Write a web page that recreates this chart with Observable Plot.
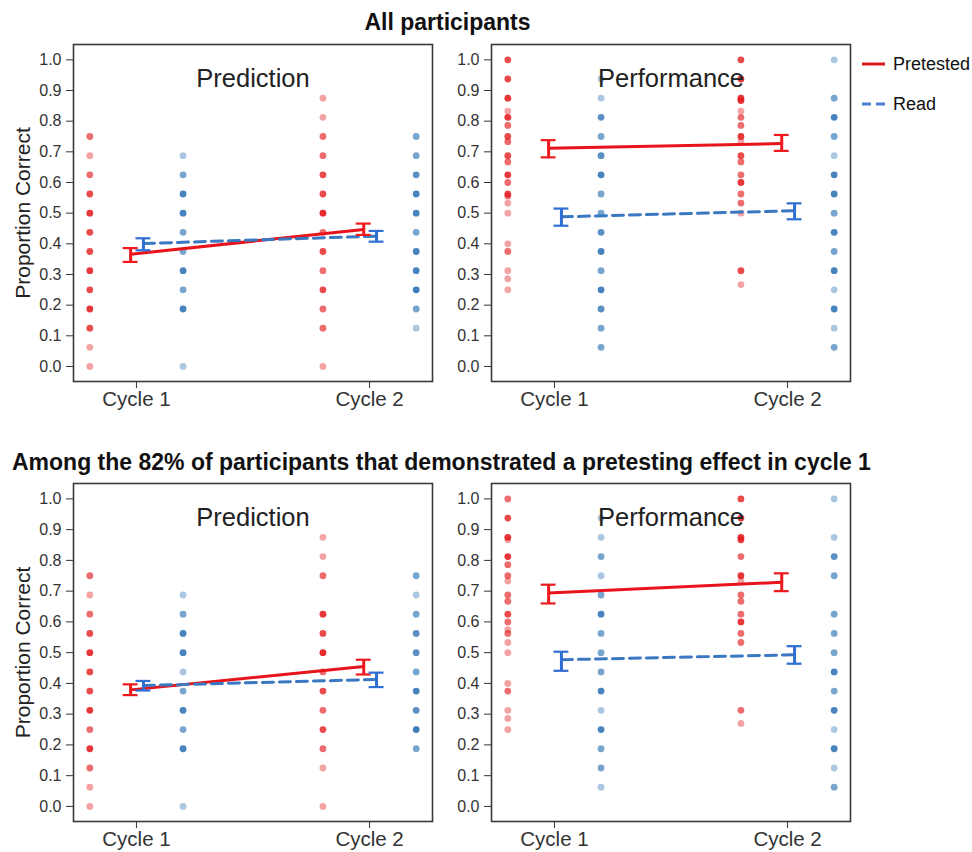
<!DOCTYPE html>
<html>
<head>
<meta charset="utf-8">
<script src="https://cdn.jsdelivr.net/npm/d3@7"></script>
<script src="https://cdn.jsdelivr.net/npm/@observablehq/plot@0.6"></script>
<style>
  html, body { margin: 0; padding: 0; background: #fff; }
  #root { position: relative; width: 972px; height: 852px; background: #fff; font-family: "Liberation Sans", Arial, sans-serif; color: #111; overflow: hidden; }
  .abs { position: absolute; }
  .h1 { font-weight: bold; font-size: 23px; white-space: nowrap; line-height: 26px; }
  .leg { font-size: 18px; display: flex; align-items: center; white-space: nowrap; }
  .leg svg { margin-right: 7px; }
</style>
</head>
<body>
<div id="root">
  <div class="abs h1" style="left:0;width:895px;top:9px;text-align:center">All participants</div>
  <div class="abs h1" style="left:12px;top:449px">Among the 82% of participants that demonstrated a pretesting effect in cycle 1</div>
  <div class="abs leg" style="left:862px;top:53px">
    <svg width="24" height="22"><line x1="0" x2="23" y1="11" y2="11" stroke="#d7191c" stroke-width="3"/></svg><span>Pretested</span>
  </div>
  <div class="abs leg" style="left:862px;top:93px">
    <svg width="24" height="22"><line x1="0" x2="23" y1="11" y2="11" stroke="#4a7fd0" stroke-width="3" stroke-dasharray="9,5"/></svg><span>Read</span>
  </div>
  <div class="abs" id="p1" style="left:0;top:36px"></div>
  <div class="abs" id="p2" style="left:440px;top:36px"></div>
  <div class="abs" id="p3" style="left:0;top:475px"></div>
  <div class="abs" id="p4" style="left:440px;top:475px"></div>
</div>
<script>
// ---------- labels ----------
const cycles = ["Cycle 1", "Cycle 2"];
const groups = ["Pretested", "Read"];
const yTicks = [0, 0.1, 0.2, 0.3, 0.4, 0.5, 0.6, 0.7, 0.8, 0.9, 1.0];
const panelTitles = ["Prediction", "Performance", "Prediction", "Performance"];

// ---------- individual scores: [value, number of overlapping participants] ----------
// All participants – Prediction
const predAllPretestedC1 = [[0.75,2],[0.6875,1],[0.625,2],[0.5625,3],[0.5,4],[0.4375,3],[0.375,3],[0.3125,4],[0.25,3],[0.1875,4],[0.125,3],[0.0625,1],[0,1]];
const predAllReadC1 = [[0.6875,1],[0.625,2],[0.5625,4],[0.5,4],[0.4375,2],[0.375,2],[0.3125,4],[0.25,2],[0.1875,4],[0,1]];
const predAllPretestedC2 = [[0.875,1],[0.8125,1],[0.75,2],[0.6875,2],[0.625,3],[0.5625,3],[0.5,5],[0.4375,2],[0.375,3],[0.3125,2],[0.25,3],[0.1875,2],[0.125,2],[0,1]];
const predAllReadC2 = [[0.75,2],[0.6875,2],[0.625,3],[0.5625,4],[0.5,4],[0.4375,2],[0.375,4],[0.3125,4],[0.25,5],[0.1875,2],[0.125,1]];
// All participants – Performance
const perfAllPretestedC1 = [[1,3],[0.9375,3],[0.875,4],[0.833,1],[0.8125,4],[0.786,2],[0.75,3],[0.733,2],[0.6875,3],[0.667,2],[0.625,4],[0.6,2],[0.5625,3],[0.556,2],[0.533,1],[0.5,1],[0.4,1],[0.375,2],[0.3125,1],[0.286,1],[0.25,1]];
const perfAllReadC1 = [[0.9375,1],[0.875,1],[0.8125,3],[0.75,2],[0.6875,3],[0.625,4],[0.5625,2],[0.5,2],[0.4375,3],[0.375,4],[0.3125,2],[0.25,4],[0.1875,3],[0.125,2],[0.0625,2]];
const perfAllPretestedC2 = [[1,3],[0.9375,4],[0.875,4],[0.867,4],[0.833,1],[0.8125,2],[0.786,2],[0.75,4],[0.733,1],[0.6875,3],[0.667,2],[0.625,2],[0.6,4],[0.5625,2],[0.533,2],[0.5,1],[0.3125,3],[0.267,1]];
const perfAllReadC2 = [[1,1],[0.875,2],[0.8125,4],[0.75,2],[0.6875,1],[0.625,4],[0.5625,4],[0.5,2],[0.4375,4],[0.375,2],[0.3125,4],[0.25,1],[0.1875,4],[0.125,1],[0.0625,2]];
// 82% subset – Prediction
const predSubPretestedC1 = [[0.75,2],[0.6875,1],[0.625,2],[0.5625,3],[0.5,4],[0.4375,3],[0.375,3],[0.3125,4],[0.25,2],[0.1875,4],[0.125,2],[0.0625,1],[0,1]];
const predSubReadC1 = [[0.6875,1],[0.625,2],[0.5625,4],[0.5,4],[0.4375,1],[0.375,2],[0.3125,4],[0.25,2],[0.1875,4],[0,1]];
const predSubPretestedC2 = [[0.875,1],[0.8125,1],[0.75,2],[0.625,4],[0.5625,3],[0.5,5],[0.4375,2],[0.375,3],[0.3125,2],[0.25,3],[0.1875,2],[0.125,1],[0,1]];
const predSubReadC2 = [[0.75,2],[0.6875,1],[0.625,2],[0.5625,3],[0.5,3],[0.4375,2],[0.375,4],[0.3125,3],[0.25,5],[0.1875,2]];
// 82% subset – Performance
const perfSubPretestedC1 = [[1,2],[0.9375,3],[0.875,4],[0.867,1],[0.8125,4],[0.786,2],[0.75,2],[0.733,1],[0.6875,2],[0.667,2],[0.625,3],[0.6,2],[0.575,1],[0.5625,2],[0.533,1],[0.5,1],[0.4,1],[0.375,2],[0.3125,1],[0.286,1],[0.25,1]];
const perfSubReadC1 = [[0.9375,1],[0.875,1],[0.8125,2],[0.75,1],[0.6875,2],[0.625,4],[0.5625,2],[0.5,2],[0.4375,2],[0.375,4],[0.3125,1],[0.25,4],[0.1875,2],[0.125,2],[0.0625,1]];
const perfSubPretestedC2 = [[1,3],[0.9375,4],[0.875,4],[0.867,4],[0.8125,2],[0.75,4],[0.733,1],[0.6875,2],[0.667,2],[0.625,2],[0.6,4],[0.5625,2],[0.533,2],[0.3125,2],[0.27,1]];
const perfSubReadC2 = [[1,1],[0.875,1],[0.8125,3],[0.75,2],[0.625,2],[0.5625,2],[0.5,2],[0.4375,4],[0.375,2],[0.3125,4],[0.25,1],[0.1875,4],[0.125,1],[0.0625,2]];

// ---------- means with error bars: per cycle [mean, low, high] ----------
const predAllPretestedMean = [[0.366,0.341,0.386],[0.447,0.429,0.466]];
const predAllReadMean      = [[0.401,0.379,0.418],[0.425,0.407,0.442]];
const perfAllPretestedMean = [[0.712,0.682,0.738],[0.727,0.703,0.755]];
const perfAllReadMean      = [[0.488,0.459,0.515],[0.508,0.480,0.532]];
const predSubPretestedMean = [[0.379,0.362,0.397],[0.455,0.429,0.477]];
const predSubReadMean      = [[0.393,0.377,0.408],[0.413,0.388,0.435]];
const perfSubPretestedMean = [[0.694,0.660,0.721],[0.729,0.700,0.758]];
const perfSubReadMean      = [[0.477,0.441,0.503],[0.493,0.464,0.521]];

// ---------- styling ----------
const dotColor = ["#e3191c", "#2c72b3"];
const lineColor = ["#e8141b", "#3a78c2"];
const barColor = ["#ee1a1e", "#2f6ed2"];
const stripOffset = [-0.2, 0.2];
const meanDodge = [-0.025, 0.03];

function buildDots(strips) {
  const out = [];
  strips.forEach((pair, gi) => pair.forEach((arr, ci) => arr.forEach(([v, n]) => out.push({group: gi, cycle: ci, v, n}))));
  return out;
}
function buildMeans(pre, read) {
  const out = [];
  [pre, read].forEach((arr, gi) => arr.forEach(([m, lo, hi], ci) => out.push({group: gi, cycle: ci, m, lo, hi})));
  return out;
}

function panel(el, title, strips, means, opt) {
  const dots = buildDots(strips);
  const mean = buildMeans(means[0], means[1]);
  const mx = d => d.cycle + meanDodge[d.group];
  const marks = [
    Plot.axisY({ticks: yTicks, tickFormat: d => d.toFixed(1), tickSize: 7, tickPadding: 5, fontSize: 16, label: null}),
    Plot.axisX({ticks: [0, 1], tickFormat: i => cycles[i], tickSize: 7, tickPadding: 3, fontSize: 20.5, label: null}),
    Plot.dot(dots, {x: d => d.cycle + stripOffset[d.group], y: "v", r: 3.4, fill: d => dotColor[d.group], fillOpacity: d => 1 - Math.pow(0.6, d.n), stroke: "none"}),
    Plot.line(mean.filter(d => d.group === 0), {x: mx, y: "m", stroke: lineColor[0], strokeWidth: 3}),
    Plot.line(mean.filter(d => d.group === 1), {x: mx, y: "m", stroke: lineColor[1], strokeWidth: 3, strokeDasharray: "11,6"}),
    Plot.ruleX(mean, {x: mx, y1: "lo", y2: "hi", stroke: d => barColor[d.group], strokeWidth: 3}),
    Plot.ruleY(mean, {y: "lo", x1: d => mx(d) - 0.032, x2: d => mx(d) + 0.032, stroke: d => barColor[d.group], strokeWidth: 2.2}),
    Plot.ruleY(mean, {y: "hi", x1: d => mx(d) - 0.032, x2: d => mx(d) + 0.032, stroke: d => barColor[d.group], strokeWidth: 2.2}),
    Plot.text([title], {text: d => d, frameAnchor: "top", dy: 34, fontSize: 25.5, fill: "#222", lineAnchor: "middle"}),
    Plot.frame({stroke: "#3a3a3a", strokeWidth: 1.6})
  ];
  if (opt.yLabel) {
    marks.push(Plot.text([opt.yLabel], {text: d => d, frameAnchor: "left", textAnchor: "middle", rotate: -90, dx: -50, fontSize: 21, fill: "#222"}));
  }
  const chart = Plot.plot({
    width: opt.width, height: opt.height,
    marginLeft: opt.marginLeft, marginRight: opt.marginRight,
    marginTop: opt.marginTop, marginBottom: opt.marginBottom,
    x: {domain: [-0.27, 1.27]},
    y: {domain: [-0.049, 1.05]},
    color: {type: "identity"},
    opacity: {type: "identity"},
    style: {fontFamily: "'Liberation Sans', Arial, sans-serif", color: "#333", background: "transparent", overflow: "visible"},
    marks
  });
  document.getElementById(el).appendChild(chart);
}

panel("p1", panelTitles[0],
  [[predAllPretestedC1, predAllPretestedC2], [predAllReadC1, predAllReadC2]],
  [predAllPretestedMean, predAllReadMean],
  {width: 440, height: 384, marginLeft: 73, marginRight: 8, marginTop: 8, marginBottom: 39, yLabel: "Proportion Correct"});
panel("p2", panelTitles[1],
  [[perfAllPretestedC1, perfAllPretestedC2], [perfAllReadC1, perfAllReadC2]],
  [perfAllPretestedMean, perfAllReadMean],
  {width: 420, height: 384, marginLeft: 51, marginRight: 10, marginTop: 8, marginBottom: 39});
panel("p3", panelTitles[2],
  [[predSubPretestedC1, predSubPretestedC2], [predSubReadC1, predSubReadC2]],
  [predSubPretestedMean, predSubReadMean],
  {width: 440, height: 377, marginLeft: 73, marginRight: 8, marginTop: 8, marginBottom: 31, yLabel: "Proportion Correct"});
panel("p4", panelTitles[3],
  [[perfSubPretestedC1, perfSubPretestedC2], [perfSubReadC1, perfSubReadC2]],
  [perfSubPretestedMean, perfSubReadMean],
  {width: 420, height: 377, marginLeft: 51, marginRight: 10, marginTop: 8, marginBottom: 31});
</script>
</body>
</html>
